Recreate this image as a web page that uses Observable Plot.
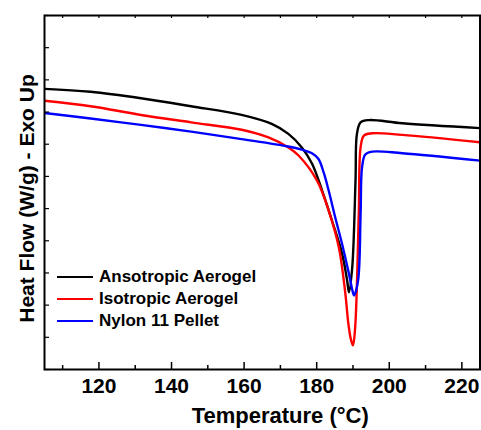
<!DOCTYPE html>
<html>
<head>
<meta charset="utf-8">
<script src="https://cdn.jsdelivr.net/npm/d3@7"></script>
<script src="https://cdn.jsdelivr.net/npm/@observablehq/plot@0.6"></script>
<style>
  body { margin: 0; background: #fff; }
  #chart { position: relative; width: 481px; height: 430px; font-family: "Liberation Sans", Arial, sans-serif; }
  #chart svg { display: block; }
  .legend { position: absolute; left: 57px; top: 266px; font-weight: bold; font-size: 17px; color: #000; }
  .legend .row { display: flex; align-items: center; height: 22px; white-space: nowrap; }
  .legend .sw { width: 36px; height: 0; border-top: 2.4px solid; margin-right: 6px; }
</style>
</head>
<body>
<div id="chart"></div>
<script>
// DSC heating scans: heat flow (arbitrary W/g offset, exo up) vs temperature (°C)
const seriesNames = ["Ansotropic Aerogel", "Isotropic Aerogel", "Nylon 11 Pellet"];
const seriesColors = ["#000000", "#ff0000", "#0000ff"];

const anisoTemp = [105, 117.7, 131.6, 145.4, 159.3, 167.6, 172.2, 175.9, 178.7, 181.5, 184.2, 187.0, 188.4, 188.9, 189.8, 190.7, 191.1, 192.1, 194.4, 203.6, 225];
const anisoFlow = [8.72, 8.63, 8.43, 8.18, 7.91, 7.63, 7.32, 6.90, 6.40, 5.56, 4.63, 3.60, 2.76, 2.40, 3.18, 5.87, 7.33, 7.68, 7.75, 7.65, 7.50];

const isoTemp = [105, 117.7, 131.6, 145.4, 159.3, 166.7, 172.2, 175.0, 180.1, 183.3, 186.1, 187.9, 188.7, 189.4, 190.0, 190.6, 191.6, 192.1, 193.0, 195.3, 203.6, 225];
const isoFlow = [8.35, 8.18, 7.91, 7.68, 7.45, 7.21, 6.90, 6.65, 5.87, 4.94, 3.80, 2.36, 1.45, 0.95, 0.75, 1.30, 4.84, 6.90, 7.27, 7.34, 7.29, 7.06];

const pelletTemp = [105, 117.7, 131.6, 145.4, 159.3, 172.2, 175.9, 178.7, 180.5, 181.9, 183.3, 185.1, 187.0, 188.9, 189.8, 190.3, 191.4, 192.1, 192.5, 193.4, 195.3, 203.6, 225];
const pelletFlow = [7.97, 7.80, 7.60, 7.39, 7.16, 6.93, 6.83, 6.72, 6.54, 6.13, 5.56, 4.73, 3.90, 2.97, 2.48, 2.30, 2.76, 4.84, 6.28, 6.68, 6.77, 6.72, 6.49];

const xMajorTicks = [120, 140, 160, 180, 200, 220];
const xMinorTicks = [110, 130, 150, 170, 190, 210];
const yTicks = [0, 1, 2, 3, 4, 5, 6, 7, 8, 9, 10, 11];

const xLabel = "Temperature (°C)";
const yLabel = "Heat Flow (W/g) - Exo Up";

const temps = [anisoTemp, isoTemp, pelletTemp];
const flows = [anisoFlow, isoFlow, pelletFlow];
const rows = seriesNames.flatMap((name, i) =>
  temps[i].map((t, j) => ({series: name, T: t, H: flows[i][j]}))
);

const W = 481, H = 430;
const mTop = 15, mBottom = 61, mLeft = 44, mRight = 1.5;
const innerW = W - mLeft - mRight;
const innerH = H - mTop - mBottom;
const font = "'Liberation Sans', Arial, sans-serif";

const chart = Plot.plot({
  width: W,
  height: H,
  marginTop: mTop,
  marginBottom: mBottom,
  marginLeft: mLeft,
  marginRight: mRight,
  style: {fontFamily: font, color: "#000", background: "#fff"},
  x: {domain: [105, 225], axis: null},
  y: {domain: [0, 11], axis: null},
  color: {domain: seriesNames, range: seriesColors},
  marks: [
    Plot.line(rows, {x: "T", y: "H", z: "series", stroke: "series", curve: "catmull-rom", strokeWidth: 2.4, clip: true}),
    // inward tick marks along the frame
    Plot.ruleX(xMajorTicks, {x: d => d, insetTop: innerH - 7, stroke: "#000", strokeWidth: 1.5}),
    Plot.ruleX(xMinorTicks, {x: d => d, insetTop: innerH - 4, stroke: "#000", strokeWidth: 1.5}),
    Plot.ruleX(xMajorTicks.concat(xMinorTicks), {x: d => d, insetBottom: innerH - 3, stroke: "#000", strokeWidth: 1.2}),
    Plot.ruleY(yTicks, {y: d => d, insetRight: innerW - 5, stroke: "#000", strokeWidth: 1.2}),
    Plot.frame({stroke: "#000", strokeWidth: 2}),
    Plot.axisX({ticks: xMajorTicks, tickSize: 0, tickPadding: 9, fontSize: 21, fontWeight: "bold", label: null}),
    Plot.text([xLabel], {text: d => d, frameAnchor: "bottom", dx: 18, dy: 53, lineAnchor: "bottom", fontSize: 22, fontWeight: "bold", fill: "#000"}),
    Plot.text([yLabel], {text: d => d, frameAnchor: "left", rotate: -90, dx: -11, dy: 6, textAnchor: "middle", lineAnchor: "bottom", fontSize: 21, fontWeight: "bold", fill: "#000"})
  ]
});

const container = document.getElementById("chart");
container.appendChild(chart);

const legend = document.createElement("div");
legend.className = "legend";
seriesNames.forEach((name, i) => {
  const row = document.createElement("div");
  row.className = "row";
  const sw = document.createElement("span");
  sw.className = "sw";
  sw.style.borderTopColor = seriesColors[i];
  const label = document.createElement("span");
  label.textContent = name;
  row.appendChild(sw);
  row.appendChild(label);
  legend.appendChild(row);
});
container.appendChild(legend);
</script>
</body>
</html>
